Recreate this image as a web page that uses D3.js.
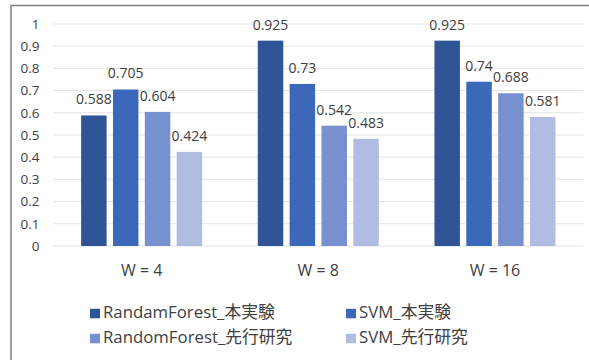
<!DOCTYPE html>
<html>
<head>
<meta charset="utf-8">
<script src="https://cdn.jsdelivr.net/npm/d3@7"></script>
<style>
  html, body { margin: 0; padding: 0; background: #fff; }
  svg { display: block; }
  text { font-family: "Open Sans", "Noto Sans CJK JP", sans-serif; fill: #404040; }
</style>
</head>
<body>
<svg id="chart" width="589" height="360"></svg>
<script>
const categories = ["W = 4", "W = 8", "W = 16"];
const seriesNames = ["RandamForest_本実験", "SVM_本実験", "RandomForest_先行研究", "SVM_先行研究"];
const rfMain = [0.588, 0.925, 0.925];
const svmMain = [0.705, 0.73, 0.74];
const rfPrev = [0.604, 0.542, 0.688];
const svmPrev = [0.424, 0.483, 0.581];
const yTicks = [0, 0.1, 0.2, 0.3, 0.4, 0.5, 0.6, 0.7, 0.8, 0.9, 1];
const colors = ["#2F5597", "#3B68B8", "#7790CE", "#B0BDE0"];

const seriesValues = [rfMain, svmMain, rfPrev, svmPrev];

const svg = d3.select("#chart");

// frame border
svg.append("path")
  .attr("d", "M11,360 L11,5.5 L589,5.5")
  .attr("fill", "none")
  .attr("stroke", "#808080")
  .attr("stroke-width", 1.5);

const x0 = d3.scaleBand().domain(categories).range([53.3, 583.3])
  .paddingInner(0.315).paddingOuter(0.1575);
const x1 = d3.scaleBand().domain(d3.range(seriesNames.length)).range([0, x0.bandwidth()])
  .paddingInner(0.2).paddingOuter(0);
const y = d3.scaleLinear().domain([0, 1]).range([246, 24]);

// gridlines
svg.append("g").selectAll("line").data(yTicks).join("line")
  .attr("x1", 53.3).attr("x2", 583.3)
  .attr("y1", d => y(d)).attr("y2", d => y(d))
  .attr("stroke", "#E3E3E3").attr("stroke-width", 1);

// y axis labels
const yAxis = d3.axisLeft(y).tickValues(yTicks).tickSize(0).tickPadding(0)
  .tickFormat(d => d3.format("")(+d.toFixed(1)));
const ya = svg.append("g").attr("transform", "translate(39.5,0)").call(yAxis);
ya.select(".domain").remove();
ya.selectAll("text").attr("font-size", 13.5).attr("fill", "#404040")
  .attr("font-family", "'Open Sans', sans-serif");

// bars
const groups = svg.append("g").selectAll("g").data(categories).join("g")
  .attr("transform", d => `translate(${x0(d)},0)`);

groups.each(function(cat, ci) {
  const g = d3.select(this);
  const vals = seriesValues.map((s, si) => ({ si, v: s[ci] }));
  g.selectAll("rect").data(vals).join("rect")
    .attr("x", d => x1(d.si))
    .attr("width", x1.bandwidth())
    .attr("y", d => y(d.v))
    .attr("height", d => y(0) - y(d.v))
    .attr("fill", d => colors[d.si]);
  g.selectAll("text").data(vals).join("text")
    .attr("x", d => x1(d.si) + x1.bandwidth() / 2)
    .attr("y", d => y(d.v) - 11)
    .attr("text-anchor", "middle")
    .attr("font-size", 14)
    .text(d => String(d.v));
});

// x axis labels
const xAxis = d3.axisBottom(x0).tickSize(0).tickPadding(0);
const xa = svg.append("g").attr("transform", "translate(0,276)").call(xAxis);
xa.select(".domain").remove();
xa.selectAll("text").attr("font-size", 16).attr("fill", "#404040")
  .attr("dy", 0).attr("font-family", "'Open Sans', sans-serif");

// legend
const legendPos = [
  { sx: 90, ty: 318.3 },
  { sx: 346, ty: 318.3 },
  { sx: 90, ty: 343.3 },
  { sx: 346, ty: 343.3 }
];
const leg = svg.append("g").selectAll("g").data(seriesNames).join("g")
  .attr("transform", (d, i) => `translate(${legendPos[i].sx},${legendPos[i].ty})`);
leg.append("rect").attr("x", 0).attr("y", -9.5).attr("width", 10).attr("height", 9.5)
  .attr("fill", (d, i) => colors[i]);
leg.append("text").attr("x", 13).attr("y", 0).attr("font-size", 16.8).text(d => d);
</script>
</body>
</html>
